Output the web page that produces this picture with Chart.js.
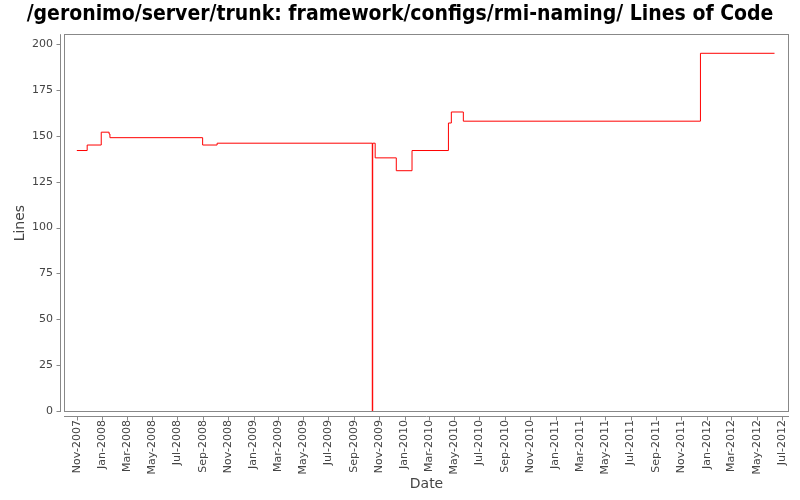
<!DOCTYPE html>
<html><head><meta charset="utf-8">
<script src="https://cdn.jsdelivr.net/npm/chart.js@4/dist/chart.umd.min.js"></script>
<style>html,body{margin:0;padding:0;background:#fff}#wrap{width:800px;height:500px}</style>
</head><body><div id="wrap"><canvas id="c" width="800" height="500"></canvas></div>
<script>
const titleText = "/geronimo/server/trunk: framework/configs/rmi-naming/ Lines of Code";
// each value holds from its date until the next date
const dates = ["2007-11-01","2007-11-26","2007-12-30","2008-01-18","2008-01-20","2008-08-31","2008-10-05","2009-10-15","2009-10-16","2009-10-22","2009-12-12","2010-01-19","2010-04-17","2010-04-24","2010-05-23","2011-12-17","2012-06-13"];
const lines = [142,145,152,151,149,145,146,0,146,138,131,142,157,163,158,195,195];
const tickMonths = ["2007-11","2008-01","2008-03","2008-05","2008-07","2008-09","2008-11","2009-01","2009-03","2009-05","2009-07","2009-09","2009-11","2010-01","2010-03","2010-05","2010-07","2010-09","2010-11","2011-01","2011-03","2011-05","2011-07","2011-09","2011-11","2012-01","2012-03","2012-05","2012-07"];
const yTicks = [0,25,50,75,100,125,150,175,200];
const monthNames = ["Jan","Feb","Mar","Apr","May","Jun","Jul","Aug","Sep","Oct","Nov","Dec"];

const DAY = 86400000;
function toDay(s){const p=s.split('-').map(Number);return Date.UTC(p[0],p[1]-1,p[2]||1)/DAY;}
function fmt(d){const dt=new Date(Math.round(d)*DAY);return monthNames[dt.getUTCMonth()]+'-'+dt.getUTCFullYear();}

const pts = dates.map((d,i)=>({x:toDay(d), y:lines[i]}));
const xMin = toDay("2007-10-01"), xMax = toDay("2012-07-18");

const frame = {
  id:'frame',
  afterDraw(chart){
    const {ctx, chartArea:a, scales} = chart;
    ctx.save();
    ctx.strokeStyle = '#888'; ctx.lineWidth = 1;
    ctx.strokeRect(Math.round(a.left)+0.5, Math.round(a.top)+0.5, Math.round(a.right-a.left)-1, Math.round(a.bottom-a.top)-1);
    const ax = Math.round(a.left)-4+0.5;
    ctx.beginPath(); ctx.moveTo(ax, a.top); ctx.lineTo(ax, a.bottom); ctx.stroke();
    scales.y.ticks.forEach(t=>{const y=Math.round(scales.y.getPixelForValue(t.value))+0.5;ctx.beginPath();ctx.moveTo(ax-4,y);ctx.lineTo(ax,y);ctx.stroke();});
    const ay = Math.round(a.bottom)+4+0.5;
    ctx.beginPath(); ctx.moveTo(a.left, ay); ctx.lineTo(a.right, ay); ctx.stroke();
    scales.x.ticks.forEach(t=>{const x=Math.round(scales.x.getPixelForValue(t.value))+0.5;ctx.beginPath();ctx.moveTo(x,ay);ctx.lineTo(x,ay+4);ctx.stroke();});
    ctx.restore();
  }
};

new Chart(document.getElementById('c'), {
  type:'line',
  data:{datasets:[{data:pts, borderColor:'#ff0000', borderWidth:1, pointRadius:0, stepped:'before', fill:false, tension:0}]},
  options:{
    responsive:false, animation:false, devicePixelRatio:1,
    layout:{padding:0},
    plugins:{legend:{display:false}, tooltip:{enabled:false},
      title:{display:true, text:titleText, color:'#000', font:{family:'DejaVu Sans Condensed', weight:'bold', size:21}, padding:{top:2,bottom:7}}},
    scales:{
      x:{type:'linear', min:xMin, max:xMax,
        afterBuildTicks(s){s.ticks = tickMonths.map(m=>({value:toDay(m)}));},
        afterFit(s){s.height=88; s.paddingLeft=0; s.paddingRight=0;},
        grid:{display:false, drawTicks:false}, border:{display:false},
        ticks:{autoSkip:false, minRotation:90, maxRotation:90, padding:8, color:'#444', font:{family:'DejaVu Sans', size:11}, callback:(v)=>fmt(v)},
        title:{display:true, text:'Date', color:'#444', font:{family:'DejaVu Sans', size:14}, padding:{top:0,bottom:7}}},
      y:{min:-0.5, max:205.4,
        afterBuildTicks(s){s.ticks = yTicks.map(v=>({value:v}));},
        afterFit(s){s.width=64; s.paddingTop=0; s.paddingBottom=0;},
        grid:{display:false, drawTicks:false}, border:{display:false},
        ticks:{padding:11, color:'#444', font:{family:'DejaVu Sans', size:11}},
        title:{display:true, text:'Lines', color:'#444', font:{family:'DejaVu Sans', size:14}, padding:{top:12,bottom:0}}},
      y2:{position:'right', display:true, min:0, max:1,
        afterBuildTicks(s){s.ticks=[];},
        afterFit(s){s.width=11; s.paddingTop=0; s.paddingBottom=0;},
        grid:{display:false, drawTicks:false}, border:{display:false},
        ticks:{display:false}}
    }
  },
  plugins:[frame]
});
</script></body></html>
